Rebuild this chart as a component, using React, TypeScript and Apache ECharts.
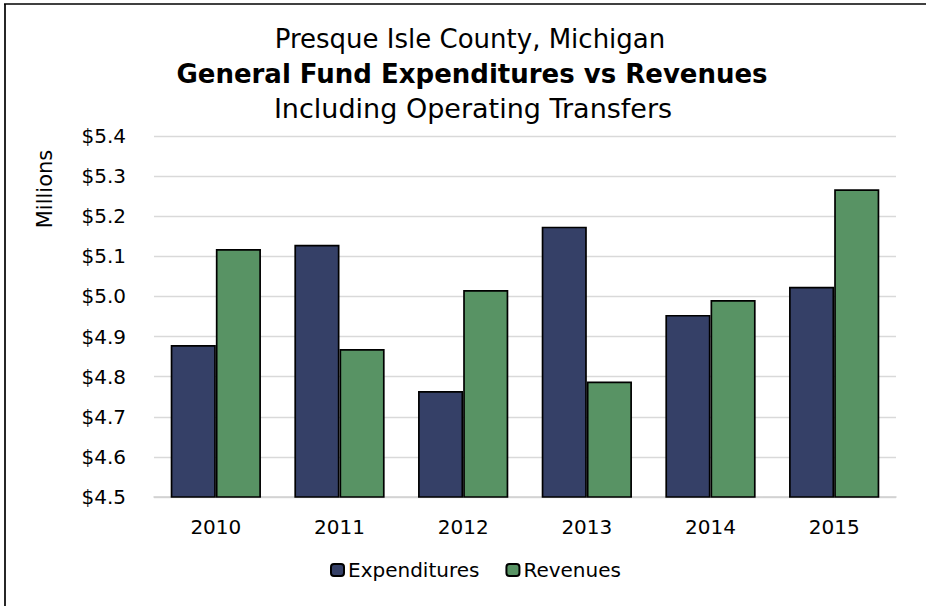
import React, { useEffect, useRef } from "react";
import * as echarts from "echarts";

const titleLines = [
  "Presque Isle County, Michigan",
  "General Fund Expenditures vs Revenues",
  "Including Operating Transfers",
];
const years = ["2010", "2011", "2012", "2013", "2014", "2015"];
const expenditures = [4.879, 5.129, 4.764, 5.174, 4.954, 5.024];
const revenues = [5.118, 4.869, 5.016, 4.788, 4.991, 5.267];
const seriesNames = ["Expenditures", "Revenues"];
const axisName = "Millions";

const FONT = "DejaVu Sans";

export default function App() {
  const ref = useRef<HTMLDivElement>(null);
  useEffect(() => {
    const chart = echarts.init(ref.current!, null, { renderer: "svg" });
    chart.setOption({
      animation: false,
      backgroundColor: "#fff",
      textStyle: { fontFamily: FONT },
      graphic: [
        {
          type: "line",
          shape: { x1: 4, y1: 4, x2: 926, y2: 4 },
          style: { stroke: "#000", lineWidth: 1.7 },
          silent: true,
        },
        {
          type: "line",
          shape: { x1: 5, y1: 4, x2: 5, y2: 606 },
          style: { stroke: "#000", lineWidth: 1.7 },
          silent: true,
        },
        {
          type: "text",
          x: 470,
          y: 52,
          style: {
            text: titleLines[0],
            font: `26px '${FONT}'`,
            fill: "#000",
            textAlign: "center",
            textVerticalAlign: "bottom",
          },
        },
        {
          type: "text",
          x: 472,
          y: 87,
          style: {
            text: titleLines[1],
            font: `bold 26px '${FONT}'`,
            fill: "#000",
            textAlign: "center",
            textVerticalAlign: "bottom",
          },
        },
        {
          type: "text",
          x: 473,
          y: 122,
          style: {
            text: titleLines[2],
            font: `27px '${FONT}'`,
            fill: "#000",
            textAlign: "center",
            textVerticalAlign: "bottom",
          },
        },
        {
          type: "text",
          x: 45,
          y: 189,
          rotation: Math.PI / 2,
          style: {
            text: axisName,
            font: `21px '${FONT}'`,
            fill: "#000",
            textAlign: "center",
            textVerticalAlign: "middle",
          },
        },
      ],
      legend: {
        data: seriesNames,
        left: 325,
        top: 555,
        itemWidth: 13,
        itemHeight: 12,
        itemGap: 26,
        textStyle: { fontSize: 20, color: "#000", fontFamily: FONT, padding: [0, 0, 0, -1] },
      },
      grid: { left: 154, right: 30, top: 136, bottom: 109 },
      xAxis: {
        type: "category",
        data: years,
        axisLine: { lineStyle: { color: "#d0d0d0", width: 1.5 } },
        axisTick: { show: false },
        axisLabel: { color: "#000", fontSize: 20, fontFamily: FONT, margin: 20 },
      },
      yAxis: {
        type: "value",
        min: 4.5,
        max: 5.4,
        interval: 0.1,
        axisLine: { show: false },
        axisTick: { show: false },
        splitLine: { lineStyle: { color: "#d9d9d9", width: 1.4 } },
        axisLabel: {
          color: "#000",
          fontSize: 20,
          fontFamily: FONT,
          margin: 28,
          formatter: (v: number) => "$" + v.toFixed(1),
        },
      },
      series: [
        {
          name: seriesNames[0],
          type: "bar",
          data: expenditures,
          barGap: "0%",
          barCategoryGap: "27%",
          itemStyle: { color: "#354067", borderColor: "#000", borderWidth: 1.7 },
        },
        {
          name: seriesNames[1],
          type: "bar",
          data: revenues,
          barGap: "0%",
          barCategoryGap: "27%",
          itemStyle: { color: "#589364", borderColor: "#000", borderWidth: 1.7 },
        },
      ],
    });
    return () => chart.dispose();
  }, []);
  return (
    <div
      ref={ref}
      style={{ position: "fixed", left: 0, top: 0, width: 926, height: 606 }}
    />
  );
}
